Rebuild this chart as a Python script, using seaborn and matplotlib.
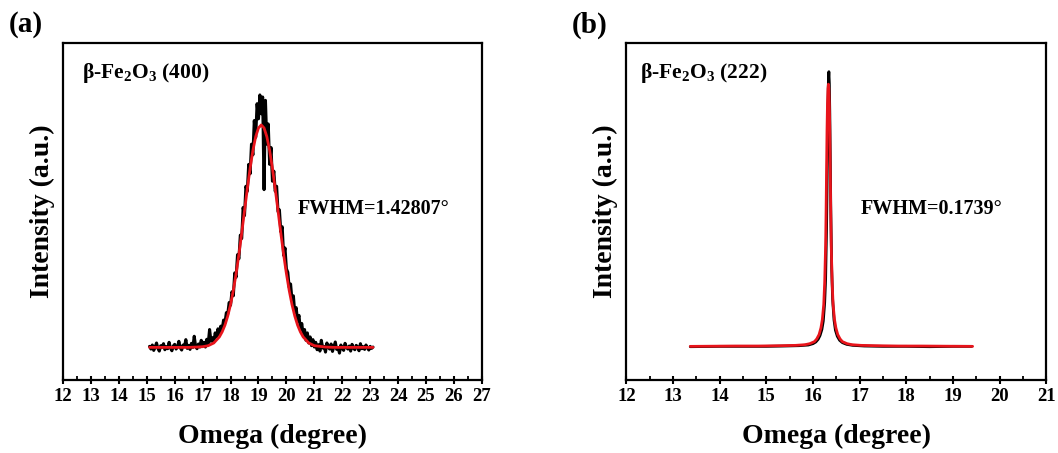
import numpy as np
import matplotlib
matplotlib.use("Agg")
import matplotlib.pyplot as plt
import seaborn as sns

# ---------------- data ----------------
# Panel (a): beta-Fe2O3 (400) rocking curve, measured (black) and fit (red)
a_meas_start, a_meas_step = 15.10, 0.05
a_meas_int = [
    0.100, 0.092, 0.104, 0.088, 0.098, 0.110, 0.094, 0.086, 0.102, 0.097,
    0.108, 0.090, 0.099, 0.093, 0.112, 0.095, 0.087, 0.101, 0.106, 0.092,
    0.098, 0.115, 0.096, 0.089, 0.104, 0.099, 0.120, 0.094, 0.103, 0.091,
    0.109, 0.097, 0.130, 0.100, 0.093, 0.107, 0.098, 0.118, 0.104,
    0.112, 0.098, 0.121, 0.108, 0.150, 0.115, 0.126, 0.112, 0.140, 0.128,
    0.152, 0.135, 0.160, 0.150, 0.178, 0.170, 0.200, 0.196, 0.230, 0.222,
    0.262, 0.250, 0.318, 0.305, 0.372, 0.360, 0.430, 0.420, 0.512, 0.488,
    0.575, 0.560, 0.640, 0.612, 0.700, 0.668, 0.770, 0.720, 0.820, 0.775,
    0.846, 0.790, 0.840, 0.565, 0.830, 0.700, 0.760, 0.640, 0.690, 0.590,
    0.620, 0.560, 0.575, 0.500, 0.505, 0.440, 0.455, 0.370, 0.392, 0.330,
    0.320, 0.275, 0.285, 0.238, 0.250, 0.200, 0.215, 0.175, 0.192, 0.150,
    0.168, 0.135, 0.150, 0.118, 0.140, 0.110, 0.128, 0.102, 0.120, 0.098,
    0.112, 0.090, 0.105, 0.086, 0.118, 0.095, 0.100, 0.083, 0.110, 0.097,
    0.092, 0.107, 0.085, 0.099, 0.113, 0.091, 0.096, 0.080, 0.104, 0.094,
    0.088, 0.109, 0.097, 0.092, 0.101, 0.086, 0.106, 0.095, 0.090, 0.103,
    0.098, 0.087, 0.108, 0.093, 0.099, 0.091, 0.104, 0.096, 0.089, 0.100,
    0.094, 0.098,
]
a_fit_omega = [15.10, 15.50, 16.00, 16.50, 16.80, 17.00, 17.20, 17.40, 17.60,
               17.70, 17.80, 17.90, 18.00, 18.10, 18.20, 18.30, 18.40, 18.50,
               18.60, 18.70, 18.80, 18.90, 19.00, 19.10, 19.20, 19.30, 19.40,
               19.50, 19.60, 19.70, 19.80, 19.90, 20.00, 20.10, 20.20, 20.30,
               20.40, 20.50, 20.60, 20.80, 21.00, 21.40, 21.70, 22.00, 22.50,
               23.10]
a_fit_int = [0.097, 0.097, 0.097, 0.097, 0.098, 0.099, 0.102, 0.110, 0.128,
             0.143, 0.163, 0.190, 0.224, 0.266, 0.316, 0.373, 0.436, 0.502,
             0.567, 0.628, 0.681, 0.722, 0.748, 0.757, 0.748, 0.722, 0.681,
             0.628, 0.567, 0.502, 0.436, 0.373, 0.316, 0.266, 0.224, 0.190,
             0.163, 0.143, 0.128, 0.110, 0.102, 0.098, 0.097, 0.097, 0.097,
             0.097]

# Panel (b): beta-Fe2O3 (222) rocking curve
b_meas_omega = [13.37, 14.00, 14.50, 15.00, 15.40, 15.70, 15.90, 16.00, 16.06,
                16.11, 16.15, 16.19, 16.22, 16.25, 16.27, 16.29, 16.30, 16.31,
                16.32, 16.33, 16.34, 16.35, 16.36, 16.37, 16.38, 16.40, 16.42,
                16.45, 16.48, 16.52, 16.57, 16.63, 16.72, 16.85, 17.10, 17.50,
                18.00, 18.50, 19.00, 19.40]
b_meas_int = [0.099, 0.100, 0.100, 0.100, 0.101, 0.102, 0.104, 0.108, 0.113,
              0.121, 0.132, 0.150, 0.175, 0.230, 0.300, 0.450, 0.560, 0.680,
              0.800, 0.890, 0.915, 0.880, 0.790, 0.660, 0.520, 0.330, 0.240,
              0.178, 0.148, 0.130, 0.118, 0.111, 0.106, 0.103, 0.101, 0.100,
              0.100, 0.099, 0.100, 0.100]
b_fit_omega = [13.37, 14.33, 14.83, 15.33, 15.63, 15.83, 15.93, 16.03, 16.08,
               16.13, 16.17, 16.20, 16.23, 16.25, 16.27, 16.28, 16.29, 16.30,
               16.31, 16.32, 16.33, 16.34, 16.35, 16.36, 16.37, 16.38, 16.39,
               16.41, 16.43, 16.46, 16.49, 16.53, 16.58, 16.63, 16.73, 16.83,
               17.03, 17.33, 17.83, 18.33, 19.42]
b_fit_int = [0.100, 0.101, 0.101, 0.102, 0.103, 0.105, 0.108, 0.114, 0.122,
             0.135, 0.155, 0.180, 0.225, 0.290, 0.400, 0.500, 0.620, 0.740,
             0.820, 0.865, 0.878, 0.865, 0.820, 0.740, 0.620, 0.500, 0.400,
             0.290, 0.225, 0.180, 0.155, 0.135, 0.122, 0.114, 0.108, 0.105,
             0.103, 0.102, 0.101, 0.101, 0.100]

panel_tags = ["(a)", "(b)"]
sample_labels = [r"β-Fe$_{\mathbf{2}}$O$_{\mathbf{3}}$ (400)",
                 r"β-Fe$_{\mathbf{2}}$O$_{\mathbf{3}}$ (222)"]
fwhm_labels = ["FWHM=1.42807°", "FWHM=0.1739°"]
x_ranges = [(12, 27), (12, 21)]
x_label = "Omega (degree)"
y_label = "Intensity (a.u.)"

# ---------------- style ----------------
sns.set_style("ticks")
plt.rcParams["font.family"] = ["Liberation Serif", "DejaVu Serif"]
plt.rcParams["font.weight"] = "bold"
plt.rcParams["mathtext.fontset"] = "custom"
plt.rcParams["mathtext.rm"] = "Liberation Serif:bold"
plt.rcParams["mathtext.bf"] = "Liberation Serif:bold"
plt.rcParams["mathtext.it"] = "Liberation Serif:bold"
plt.rcParams["axes.linewidth"] = 1.6
plt.rcParams["text.color"] = "black"
plt.rcParams["axes.labelcolor"] = "black"
plt.rcParams["axes.edgecolor"] = "black"
plt.rcParams["xtick.color"] = "black"
plt.rcParams["ytick.color"] = "black"

fig = plt.figure(figsize=(10.58, 4.53), dpi=100)
ax_a = fig.add_axes([0.0595, 0.161, 0.396, 0.744])
ax_b = fig.add_axes([0.5920, 0.161, 0.397, 0.744])

a_meas_omega = np.round(a_meas_start + a_meas_step * np.arange(len(a_meas_int)), 2)

sns.lineplot(x=a_meas_omega, y=a_meas_int, ax=ax_a, color="black", lw=2.2,
             estimator=None, sort=False)
sns.lineplot(x=a_fit_omega, y=a_fit_int, ax=ax_a, color="#e8141b", lw=2.0,
             estimator=None, sort=False)
sns.lineplot(x=b_meas_omega, y=b_meas_int, ax=ax_b, color="black", lw=2.0,
             estimator=None, sort=False)
sns.lineplot(x=b_fit_omega, y=b_fit_int, ax=ax_b, color="#e8141b", lw=2.0,
             estimator=None, sort=False)

for i, ax in enumerate([ax_a, ax_b]):
    lo, hi = x_ranges[i]
    ax.set_xlim(lo, hi)
    ax.set_ylim(0, 1)
    ax.set_xticks(np.arange(lo, hi + 1, 1))
    ax.set_xticks(np.arange(lo + 0.5, hi, 1), minor=True)
    ax.set_yticks([])
    ax.tick_params(axis="x", which="major", direction="inout", length=6,
                   width=1.5, labelsize=13.5, pad=3)
    ax.tick_params(axis="x", which="minor", direction="in", length=3, width=1.3)
    for lab in ax.get_xticklabels():
        lab.set_fontweight("bold")
    for sp in ax.spines.values():
        sp.set_visible(True)
        sp.set_linewidth(1.6)
        sp.set_color("black")
    ax.set_xlabel(x_label, fontsize=20, fontweight="bold", labelpad=13)
    ax.set_ylabel(y_label, fontsize=20, fontweight="bold", labelpad=6)
    ax.text(0.045 if i == 0 else 0.033, 0.91, sample_labels[i],
            transform=ax.transAxes, fontsize=15.5, fontweight="bold",
            va="center", ha="left")
    ax.text(0.561 if i == 0 else 0.557, 0.507, fwhm_labels[i],
            transform=ax.transAxes, fontsize=14.5, fontweight="bold",
            va="center", ha="left")

fig.text(0.008, 0.945, panel_tags[0], fontsize=21, fontweight="bold",
         va="center", ha="left")
fig.text(0.540, 0.945, panel_tags[1], fontsize=21, fontweight="bold",
         va="center", ha="left")

fig.savefig("out.png", dpi=100)
